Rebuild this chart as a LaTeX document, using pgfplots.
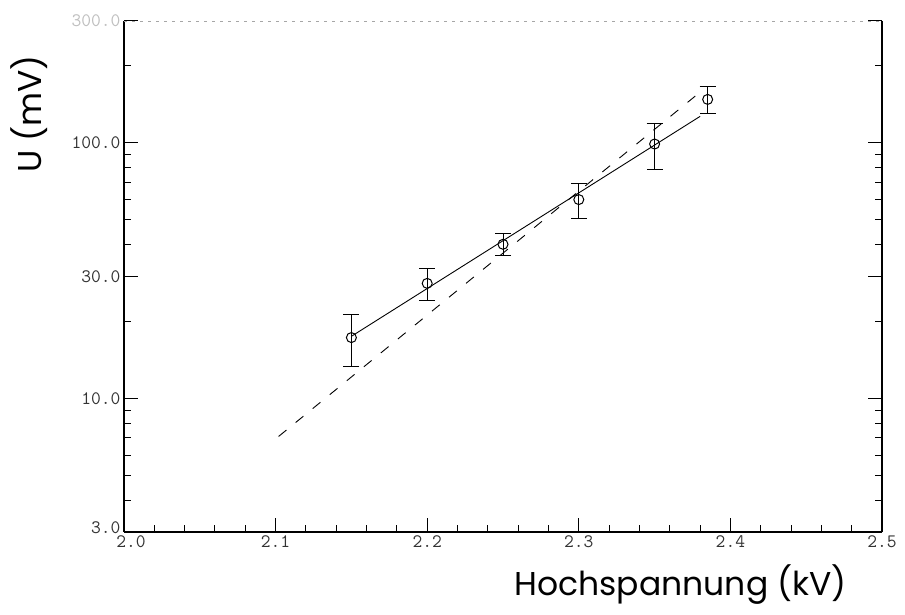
\documentclass[border=0pt]{standalone}
\usepackage{fontspec}
\usepackage{pgfplots}
\pgfplotsset{compat=1.18}
\newfontfamily\labelfont{Poppins}
\begin{document}
\begin{tikzpicture}[x=1pt,y=1pt]
\useasboundingbox (0,0) rectangle (905,614);
\begin{axis}[
  at={(124pt,82pt)}, anchor=south west,
  scale only axis, width=758pt, height=511pt,
  xmin=2.0, xmax=2.5, ymode=log, ymin=3, ymax=300,
  axis x line*=bottom, axis y line*=box,
  xtick={2.0,2.1,2.2,2.3,2.4,2.5},
  xticklabels={{\hspace*{14pt}2.0},2.1,2.2,2.3,2.4,2.5},
  minor x tick num=4,
  ytick={3,10,30,100,300},
  yticklabels={{\raisebox{9pt}{3.0}},10.0,30.0,100.0,{\color{black!25}300.0}},
  minor ytick={4,5,6,7,8,9,20,40,50,60,70,80,90,200},
  tick align=inside,
  major tick length=14pt, minor tick length=7pt,
  tick style={black, line width=1pt},
  axis line style={line width=1.3pt},
  ticklabel style={font=\ttfamily\fontsize{19}{19}\selectfont, text=black!80},
  clip=false,
]
\draw[black!35, line width=0.8pt, dash pattern=on 3pt off 5pt] (rel axis cs:0,1) -- (rel axis cs:1,1);
\addplot[black, line width=0.9pt, dash pattern=on 10pt off 12pt] coordinates {(2.102,7.1) (2.38,158)};
\addplot[black, line width=0.9pt] coordinates {(2.15,17.5) (2.38,127)};
\addplot[only marks, mark=o, mark size=5pt, black,
  mark options={line width=1pt, fill=white},
  error bars/.cd, y dir=both, y explicit,
  error bar style={line width=0.9pt},
  error mark options={rotate=90, mark size=8pt, line width=1pt}]
  coordinates {
  (2.15,17.3) +- (0,4)
  (2.20,28.2) +- (0,4)
  (2.25,40.1) +- (0,4)
  (2.30,60.0) +- (0,9.5)
  (2.35,99.0) +- (0,20)
  (2.385,148.0) +- (0,18)
  };
\end{axis}
\node[font=\labelfont\fontsize{33}{33}\selectfont, anchor=base east] at (850,19) {Hochspannung (kV)};
\node[font=\labelfont\fontsize{33}{33}\selectfont, rotate=90] at (29,500) {U (mV)};
\end{tikzpicture}
\end{document}
